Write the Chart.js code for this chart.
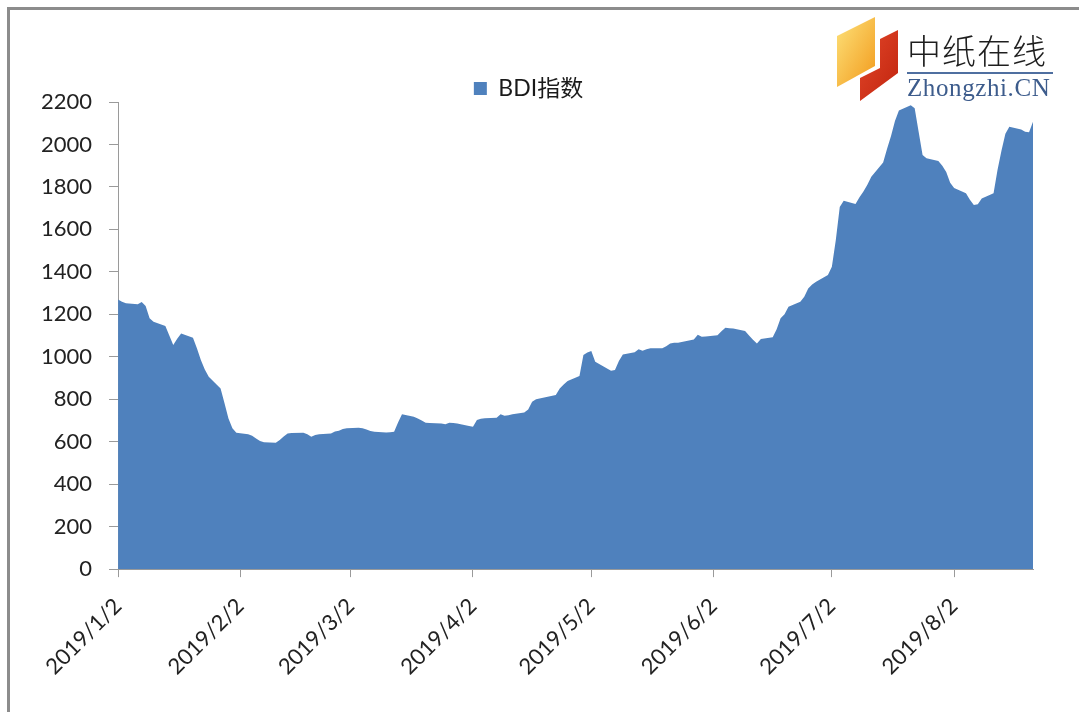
<!DOCTYPE html>
<html>
<head>
<meta charset="utf-8">
<title>BDI指数</title>
<script src="https://cdn.jsdelivr.net/npm/chart.js@4.4.1/dist/chart.umd.min.js"></script>
<style>
    html, body { margin: 0; padding: 0; background: #fff; }
    #wrap { position: relative; width: 1079px; height: 712px; overflow: hidden; }
    #frame { position: absolute; left: 7px; top: 7px; width: 1200px; height: 900px;
             border-left: 3px solid #8c8c8c; border-top: 3px solid #8c8c8c; }
    #chart { position: absolute; left: 0; top: 0; }
    #logo { position: absolute; left: 830px; top: 10px; width: 240px; height: 100px; }
</style>
</head>
<body>
<div id="wrap">
    <div id="frame"></div>
    <canvas id="chart" width="1079" height="712"></canvas>
    <svg id="logo" width="240" height="100" viewBox="830 10 240 100">
        <defs>
            <linearGradient id="gy" x1="0" y1="0" x2="1" y2="1">
                <stop offset="0" stop-color="#fde27a"/>
                <stop offset="1" stop-color="#f29a1c"/>
            </linearGradient>
            <linearGradient id="gr" x1="0" y1="0" x2="1" y2="1">
                <stop offset="0" stop-color="#e2472a"/>
                <stop offset="1" stop-color="#c1240e"/>
            </linearGradient>
        </defs>
        <polygon points="837,36 875,17 875,66 837,87" fill="url(#gy)"/>
        <polygon points="880,39 898,30 898,73 860,101 860,78 880,68" fill="url(#gr)"/>
        <text x="907" y="64" font-family="'Noto Sans CJK SC'" font-size="34" font-weight="300" fill="#1e1e1e" letter-spacing="1">中纸在线</text>
        <rect x="907" y="72" width="146" height="2" fill="#4f6fa0"/>
        <text x="907" y="96" font-family="'Liberation Serif', 'DejaVu Serif', serif" font-size="25" fill="#3d5c8c" letter-spacing="0.6">Zhongzhi.CN</text>
    </svg>
</div>
<script>
    // BDI daily values
    const dates = [
        '2019/1/2', '2019/1/3', '2019/1/4', '2019/1/7', '2019/1/8', '2019/1/9', '2019/1/10', '2019/1/11',
        '2019/1/14', '2019/1/15', '2019/1/16', '2019/1/17', '2019/1/18', '2019/1/21', '2019/1/22', '2019/1/23',
        '2019/1/24', '2019/1/25', '2019/1/28', '2019/1/29', '2019/1/30', '2019/1/31', '2019/2/1',
        '2019/2/4', '2019/2/5', '2019/2/6', '2019/2/7', '2019/2/8', '2019/2/11', '2019/2/12', '2019/2/13',
        '2019/2/14', '2019/2/15', '2019/2/18', '2019/2/19', '2019/2/20', '2019/2/21', '2019/2/22',
        '2019/2/25', '2019/2/26', '2019/2/27', '2019/2/28', '2019/3/1', '2019/3/4', '2019/3/5', '2019/3/6',
        '2019/3/7', '2019/3/8', '2019/3/11', '2019/3/12', '2019/3/13', '2019/3/14', '2019/3/15',
        '2019/3/18', '2019/3/19', '2019/3/20', '2019/3/21', '2019/3/22', '2019/3/25', '2019/3/26',
        '2019/3/27', '2019/3/28', '2019/3/29', '2019/4/1', '2019/4/2', '2019/4/3', '2019/4/4', '2019/4/5',
        '2019/4/8', '2019/4/9', '2019/4/10', '2019/4/11', '2019/4/12', '2019/4/15', '2019/4/16',
        '2019/4/17', '2019/4/18', '2019/4/23', '2019/4/24', '2019/4/25', '2019/4/26', '2019/4/29',
        '2019/4/30', '2019/5/1', '2019/5/2', '2019/5/3', '2019/5/7', '2019/5/8', '2019/5/9', '2019/5/10',
        '2019/5/13', '2019/5/14', '2019/5/15', '2019/5/16', '2019/5/17', '2019/5/20', '2019/5/21',
        '2019/5/22', '2019/5/23', '2019/5/24', '2019/5/28', '2019/5/29', '2019/5/30', '2019/5/31',
        '2019/6/3', '2019/6/4', '2019/6/5', '2019/6/6', '2019/6/7', '2019/6/10', '2019/6/11', '2019/6/12',
        '2019/6/13', '2019/6/14', '2019/6/17', '2019/6/18', '2019/6/19', '2019/6/20', '2019/6/21',
        '2019/6/24', '2019/6/25', '2019/6/26', '2019/6/27', '2019/6/28', '2019/7/1', '2019/7/2',
        '2019/7/3', '2019/7/4', '2019/7/5', '2019/7/8', '2019/7/9', '2019/7/10', '2019/7/11', '2019/7/12',
        '2019/7/15', '2019/7/16', '2019/7/17', '2019/7/18', '2019/7/19', '2019/7/22', '2019/7/23',
        '2019/7/24', '2019/7/25', '2019/7/26', '2019/7/29', '2019/7/30', '2019/7/31', '2019/8/1',
        '2019/8/2', '2019/8/5', '2019/8/6', '2019/8/7', '2019/8/8', '2019/8/9', '2019/8/12', '2019/8/13',
        '2019/8/14', '2019/8/15', '2019/8/16', '2019/8/19', '2019/8/20', '2019/8/21', '2019/8/22'
    ];
    const bdi = [
        1270, 1259, 1252, 1247, 1258, 1239, 1181, 1165,
        1145, 1100, 1055, 1085, 1110, 1090, 1040, 985,
        940, 906, 851, 781, 710, 663, 642,
        635, 628, 615, 604, 597, 595, 608, 625,
        639, 641, 642, 635, 623, 632, 635,
        639, 648, 652, 660, 663, 666, 663, 658,
        650, 647, 644, 645, 647, 690, 729,
        718, 710, 700, 689, 688, 686, 682,
        689, 688, 686, 674, 670, 702, 708, 711,
        713, 729, 722, 725, 730, 738, 752,
        788, 800, 820, 851, 870, 886, 909,
        1008, 1020, 1027, 977, 934, 938, 980, 1011,
        1022, 1036, 1028, 1035, 1040, 1040, 1050,
        1063, 1066, 1066, 1082, 1104, 1094, 1096,
        1101, 1120, 1137, 1135, 1133, 1121, 1100, 1080,
        1063, 1084, 1092, 1130, 1181, 1200, 1236,
        1259, 1283, 1322, 1340, 1354, 1385, 1424,
        1550, 1705, 1735, 1720, 1751, 1778, 1810, 1848,
        1915, 1980, 2040, 2110, 2160, 2185, 2170,
        2060, 1950, 1935, 1922, 1900, 1870, 1820,
        1795, 1770, 1740, 1715, 1718, 1745, 1770, 1880,
        1970, 2050, 2084, 2070, 2060, 2057, 2107
    ];
    const tickDates = ['2019/1/2', '2019/2/2', '2019/3/2', '2019/4/2', '2019/5/2', '2019/6/2', '2019/7/2', '2019/8/2'];
    const seriesName = 'BDI指数';

    // day number counted from the first date, so the x axis keeps calendar spacing
    const start = dates[0];
    function dayOf(s) {
        const p = s.split('/').map(Number);
        const q = start.split('/').map(Number);
        return (Date.UTC(p[0], p[1] - 1, p[2]) - Date.UTC(q[0], q[1] - 1, q[2])) / 86400000;
    }

    // push the legend a little closer to the plot, like the Excel original
    const legendNudge = {
        id: 'legendNudge',
        afterLayout(chart) {
            if (chart.legend) {
                chart.legend.top += 8;
                chart.legend.bottom += 8;
            }
        }
    };

    Chart.defaults.font.family = "Lato, 'Noto Sans CJK SC', sans-serif";
    Chart.defaults.font.size = 21;
    Chart.defaults.color = '#222';

    const ctx = document.getElementById('chart').getContext('2d');
    new Chart(ctx, {
        type: 'line',
        data: {
            datasets: [{
                label: seriesName,
                data: dates.map((d, i) => ({ x: dayOf(d), y: bdi[i] })),
                backgroundColor: '#4F81BD',
                borderColor: '#4F81BD',
                borderWidth: 0,
                fill: 'origin',
                pointRadius: 0,
                tension: 0
            }]
        },
        options: {
            responsive: false,
            animation: false,
            layout: { padding: { left: 24, right: 46, top: 69, bottom: 16 } },
            plugins: {
                legend: {
                    position: 'top',
                    labels: { boxWidth: 13, boxHeight: 13, padding: 0, color: '#1a1a1a', font: { size: 23 } }
                },
                tooltip: { enabled: false }
            },
            scales: {
                x: {
                    type: 'linear',
                    min: 0,
                    max: dayOf(dates[dates.length - 1]),
                    afterBuildTicks: (scale) => {
                        scale.ticks = tickDates.map(d => ({ value: dayOf(d) }));
                    },
                    ticks: {
                        autoSkip: false,
                        maxRotation: 45,
                        minRotation: 45,
                        padding: 16,
                        font: { size: 22 },
                        callback: (v, i) => tickDates[i]
                    },
                    grid: { drawOnChartArea: false, drawTicks: true, tickLength: 8, color: '#9a9a9a' },
                    border: { display: true, color: '#9a9a9a' }
                },
                y: {
                    min: 0,
                    max: 2200,
                    ticks: { stepSize: 200, padding: 17, font: { size: 22 }, callback: (v) => String(v) },
                    grid: { drawOnChartArea: false, drawTicks: true, tickLength: 9, color: '#9a9a9a' },
                    border: { display: true, color: '#9a9a9a' }
                }
            }
        },
        plugins: [legendNudge]
    });
</script>
</body>
</html>
